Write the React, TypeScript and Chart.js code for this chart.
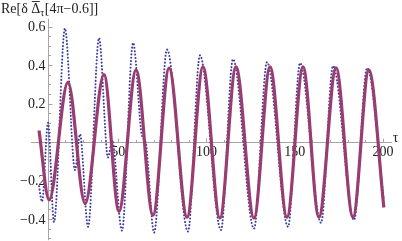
import React, { useEffect, useRef } from "react";
import { Chart, registerables } from "chart.js";

Chart.register(...registerables);

// Solid (purple) series: extremes
const solidTau = [5.1, 10.8, 21.5, 31.2, 41.9, 50.4, 60.1, 69.7, 78.8, 89.0, 98.0, 107.6, 116.7, 126.9, 136.0, 145.6, 154.7, 163.7, 173.4, 183.0, 192.0, 200.5];
const solidVal = [0.06, -0.30, 0.31, -0.32, 0.35, -0.36, 0.374, -0.38, 0.384, -0.39, 0.39, -0.395, 0.39, -0.395, 0.39, -0.39, 0.39, -0.39, 0.385, -0.39, 0.374, -0.34];

// Dotted (blue) series
const dotTau = [5.1, 6.8, 10.2, 13.6, 19.8, 25.5, 28.3, 32.9, 39.1, 44.2, 46.5, 52.1, 58.4, 63.5, 65.5, 70.3, 77.6, 89.5, 96.3, 108.2, 115.0, 126.9, 134.3, 146.2, 153.0, 164.9, 171.7, 183.6, 191.0, 200.5];
const dotVal = [-0.23, -0.31, 0.10, -0.415, 0.59, -0.145, 0.04, -0.44, 0.54, -0.08, 0.01, -0.46, 0.515, 0.03, 0.0, -0.47, 0.48, -0.465, 0.45, -0.457, 0.43, -0.45, 0.415, -0.44, 0.41, -0.42, 0.395, -0.405, 0.385, -0.30];

const xTickValues = [50, 100, 150, 200];
const xTickLabels = ["50", "100", "150", "200"];
const yTickValues = [-0.4, -0.2, 0.2, 0.4, 0.6];
const yTickLabels = ["\u22120.4", "\u22120.2", "0.2", "0.4", "0.6"];

const X_MIN = 0.5, X_MAX = 205, Y_MIN = -0.51, Y_MAX = 0.64;
const Y_AXIS_AT = 10;

const AXIS_COLOR = "rgb(165,165,165)";
const FONT = '"Liberation Serif", "Times New Roman", serif';

const axesPlugin = {
  id: "mmaAxes",
  beforeDatasetsDraw(chart: any) {
    const ctx = chart.ctx;
    const xs = chart.scales.x, ys = chart.scales.y;
    const y0 = Math.round(ys.getPixelForValue(0)) + 0.5;
    const xa = Math.round(xs.getPixelForValue(Y_AXIS_AT)) + 0.5;
    ctx.save();
    ctx.strokeStyle = AXIS_COLOR;
    ctx.lineWidth = 1;
    ctx.beginPath();
    ctx.moveTo(xs.left, y0); ctx.lineTo(xs.right, y0);
    ctx.moveTo(xa, ys.top); ctx.lineTo(xa, ys.bottom);
    // x ticks
    for (let t = 10; t <= 200; t += 10) {
      const px = Math.round(xs.getPixelForValue(t)) + 0.5;
      const len = t % 50 === 0 ? 4 : 2.5;
      ctx.moveTo(px, y0); ctx.lineTo(px, y0 - len);
    }
    // y ticks
    for (let k = -10; k <= 12; k++) {
      const v = k * 0.05;
      if (v < Y_MIN || v > Y_MAX || k === 0) continue;
      const py = Math.round(ys.getPixelForValue(v)) + 0.5;
      const len = k % 4 === 0 ? 4 : 2.5;
      ctx.moveTo(xa, py); ctx.lineTo(xa + len, py);
    }
    ctx.stroke();

    ctx.fillStyle = "#222";
    ctx.font = "14px " + FONT;
    ctx.textAlign = "center";
    ctx.textBaseline = "top";
    xTickValues.forEach((v, i) => {
      ctx.fillText(xTickLabels[i], xs.getPixelForValue(v), y0 + 3);
    });
    ctx.textAlign = "right";
    ctx.textBaseline = "middle";
    yTickValues.forEach((v, i) => {
      ctx.fillText(yTickLabels[i], xa - 3, ys.getPixelForValue(v) + 1);
    });

    // tau label at end of x axis
    ctx.textAlign = "left";
    ctx.textBaseline = "alphabetic";
    ctx.fillText("\u03c4", xs.right + 1, y0 - 1);

    // y axis label: Re[δ Δ̄_τ[4π−0.6]]
    let x = 1;
    const base = 13;
    const p1 = "Re[\u03b4 ";
    ctx.fillText(p1, x, base);
    x += ctx.measureText(p1).width;
    const dW = ctx.measureText("\u0394").width;
    ctx.fillText("\u0394", x, base);
    ctx.strokeStyle = "#222";
    ctx.lineWidth = 0.9;
    ctx.beginPath();
    ctx.moveTo(x + 0.5, 1.5); ctx.lineTo(x + dW - 0.5, 1.5);
    ctx.stroke();
    x += dW;
    ctx.font = "10px " + FONT;
    ctx.fillText("\u03c4", x, base + 3);
    x += ctx.measureText("\u03c4").width + 0.5;
    ctx.font = "14px " + FONT;
    ctx.fillText("[4\u03c0\u22120.6]]", x, base);
    ctx.restore();
  },
};

export default function App() {
  const ref = useRef<HTMLCanvasElement>(null);
  useEffect(() => {
    if (!ref.current) return;
    const chart = new Chart(ref.current, {
      type: "line",
      data: {
        datasets: [
          {
            label: "dotted",
            data: dotTau.map((t, i) => ({ x: t, y: dotVal[i] })),
            borderColor: "rgb(61,61,160)",
            borderWidth: 2,
            borderDash: [0.1, 3.3],
            borderCapStyle: "round",
            pointRadius: 0,
            cubicInterpolationMode: "monotone",
            fill: false,
            clip: false,
            order: 2,
          } as any,
          {
            label: "solid",
            data: solidTau.map((t, i) => ({ x: t, y: solidVal[i] })),
            borderColor: "rgb(153,61,113)",
            borderWidth: 3.2,
            pointRadius: 0,
            cubicInterpolationMode: "monotone",
            fill: false,
            clip: false,
            order: 1,
          } as any,
        ],
      },
      options: {
        animation: false,
        responsive: false,
        devicePixelRatio: 1,
        layout: { autoPadding: false, padding: { left: 30.9, right: 10.2, top: 18.8, bottom: 0.8 } } as any,
        plugins: { legend: { display: false }, tooltip: { enabled: false } },
        scales: {
          x: { type: "linear", min: X_MIN, max: X_MAX, display: false },
          y: { type: "linear", min: Y_MIN, max: Y_MAX, display: false },
        },
      },
      plugins: [axesPlugin],
    });
    return () => chart.destroy();
  }, []);
  return (
    <div style={{ position: "absolute", left: 0, top: 0, width: 402, height: 241, background: "#fff" }}>
      <canvas ref={ref} width={402} height={241} style={{ width: 402, height: 241, display: "block" }} />
    </div>
  );
}
